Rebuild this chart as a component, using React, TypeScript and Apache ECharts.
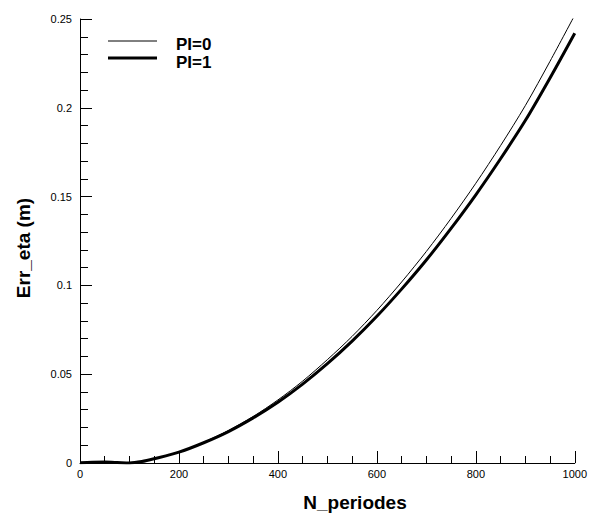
import React, { useEffect, useRef } from "react";
import * as echarts from "echarts";

const nPeriods = [0, 25, 50, 75, 100, 125, 150, 200, 250, 300, 350, 400, 450, 500, 550, 600, 650, 700, 750, 800, 850, 900, 950, 1000];
const errPI0 = [0.0002, 0.0004, 0.0005, 0.0003, 0.0, 0.0008, 0.0024, 0.0062, 0.0117, 0.0183, 0.0262, 0.0355, 0.0461, 0.0582, 0.0713, 0.0859, 0.1019, 0.1191, 0.1377, 0.1575, 0.1787, 0.2012, 0.2262, 0.2522];
const errPI1 = [0.0002, 0.0004, 0.0005, 0.0003, 0.0, 0.0008, 0.0024, 0.0061, 0.0114, 0.0177, 0.0254, 0.0342, 0.0444, 0.0559, 0.0686, 0.0826, 0.0979, 0.1143, 0.1321, 0.1510, 0.1713, 0.1928, 0.2168, 0.2420];
const seriesNames = ["PI=0", "PI=1"];
const xTitle = "N_periodes";
const yTitle = "Err_eta (m)";

const FONT = "'Liberation Sans', Arial, sans-serif";

export default function App() {
  const ref = useRef<HTMLDivElement>(null);
  useEffect(() => {
    if (!ref.current) return;
    const chart = echarts.init(ref.current, undefined, { renderer: "svg" });
    const toPairs = (ys: number[]) => nPeriods.map((x, i) => [x, ys[i]]);
    chart.setOption({
      animation: false,
      backgroundColor: "#ffffff",
      grid: { left: 80, right: 12, top: 19, bottom: 53, containLabel: false },
      xAxis: {
        type: "value",
        min: 0,
        max: 1000,
        interval: 200,
        axisLine: { show: true, lineStyle: { color: "#000", width: 1 } },
        axisTick: { show: true, inside: true, length: 12, lineStyle: { color: "#000", width: 1 } },
        minorTick: { show: true, splitNumber: 4, length: 7, lineStyle: { color: "#000", width: 1 } },
        splitLine: { show: false },
        axisLabel: { color: "#000", fontFamily: FONT, fontSize: 11, margin: 5, formatter: (v: number) => String(v) },
      },
      yAxis: {
        type: "value",
        min: 0,
        max: 0.25,
        interval: 0.05,
        axisLine: { show: true, lineStyle: { color: "#000", width: 1 } },
        axisTick: { show: true, inside: true, length: 12, lineStyle: { color: "#000", width: 1 } },
        minorTick: { show: true, splitNumber: 5, length: 8, lineStyle: { color: "#000", width: 1 } },
        splitLine: { show: false },
        axisLabel: { color: "#000", fontFamily: FONT, fontSize: 11, margin: 8, formatter: (v: number) => String(v) },
      },
      series: [
        {
          name: seriesNames[0],
          type: "line",
          data: toPairs(errPI0),
          showSymbol: false,
          smooth: 0.3,
          lineStyle: { color: "#000", width: 1 },
        },
        {
          name: seriesNames[1],
          type: "line",
          data: toPairs(errPI1),
          showSymbol: false,
          smooth: 0.3,
          lineStyle: { color: "#000", width: 3 },
        },
      ],
      graphic: [
        { type: "line", shape: { x1: 108, y1: 41, x2: 157, y2: 41 }, style: { stroke: "#000", lineWidth: 1 } },
        { type: "line", shape: { x1: 108, y1: 58, x2: 157, y2: 58 }, style: { stroke: "#000", lineWidth: 3 } },
        {
          type: "text",
          x: 176,
          y: 44,
          style: { text: seriesNames[0], fill: "#000", font: `bold 17px ${FONT}`, textVerticalAlign: "middle" },
        },
        {
          type: "text",
          x: 176,
          y: 62,
          style: { text: seriesNames[1], fill: "#000", font: `bold 17px ${FONT}`, textVerticalAlign: "middle" },
        },
        {
          type: "text",
          x: 355,
          y: 502,
          style: { text: xTitle, fill: "#000", font: `bold 19px ${FONT}`, textAlign: "center", textVerticalAlign: "middle" },
        },
        {
          type: "text",
          x: 23,
          y: 248,
          rotation: Math.PI / 2,
          style: { text: yTitle, fill: "#000", font: `bold 19px ${FONT}`, textAlign: "center", textVerticalAlign: "middle" },
        },
      ],
    });
    return () => chart.dispose();
  }, []);
  return <div ref={ref} style={{ position: "absolute", left: 0, top: 0, width: 590, height: 516 }} />;
}
